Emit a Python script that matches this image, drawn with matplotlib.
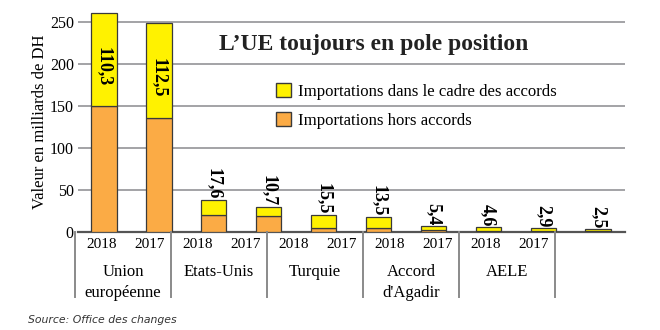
import numpy as np
import matplotlib
matplotlib.use('Agg')
import matplotlib.pyplot as plt
from matplotlib.patches import Patch

# data (milliards de DH)
groups = ['Union\neuropéenne', 'Etats-Unis', 'Turquie', 'Accord\nd\'Agadir', 'AELE']
years = ['2018', '2017']
accords = [110.3, 112.5, 17.6, 10.7, 15.5, 13.5, 5.4, 4.6, 2.9, 2.5]
hors = [150.0, 136.0, 19.8, 18.5, 4.7, 4.4, 1.7, 1.3, 1.0, 0.3]
labels = ['110,3', '112,5', '17,6', '10,7', '15,5', '13,5', '5,4', '4,6', '2,9', '2,5']

yellow = '#FFF200'
orange = '#FBAB45'
edge = '#3a3a3a'
grid_c = '#a3a3a6'
serif = 'Liberation Serif'

W, H = 660, 330
fig = plt.figure(figsize=(6.6, 3.3), dpi=100)
ax = fig.add_axes([78/W, 1-231.7/H, (625-78)/W, 220/H])

x = np.arange(len(accords))
hors = np.array(hors)
accords = np.array(accords)
ax.bar(x, hors, width=0.46, color=orange, edgecolor=edge, linewidth=0.9, zorder=3)
ax.bar(x, accords, width=0.46, bottom=hors, color=yellow, edgecolor=edge, linewidth=0.9, zorder=3)

total = hors + accords
for i, lab in enumerate(labels):
    if accords[i] > 50:
        ax.text(x[i], hors[i] + accords[i]*0.42, lab, rotation=270, ha='center', va='center',
                fontsize=13, fontweight='bold', family=serif, zorder=4)
    else:
        ax.annotate(lab, (x[i], total[i]), xytext=(0, 0.5), textcoords='offset points',
                    rotation=270, ha='center', va='bottom', fontsize=13,
                    fontweight='bold', family=serif, zorder=4)

ax.set_xlim(-0.474, 9.49)
ax.set_ylim(0, 262)
ax.set_yticks([0, 50, 100, 150, 200, 250])
ax.set_yticklabels(['0', '50', '100', '150', '200', '250'], family=serif, fontsize=11.5)
ax.tick_params(axis='y', length=0, pad=3)
ax.set_xticks([])
ax.yaxis.grid(True, color=grid_c, linewidth=1.4, zorder=0)
for s in ['left', 'right', 'top']:
    ax.spines[s].set_visible(False)
ax.spines['bottom'].set_color('#555555')
ax.spines['bottom'].set_linewidth(1.6)
ax.set_ylabel('Valeur en milliards de DH', family=serif, fontsize=12, labelpad=1)

ax.text(0.258, 0.85, 'L\u2019UE toujours en pole position', transform=ax.transAxes,
        ha='left', va='center', fontsize=17, fontweight='bold', family=serif, color='#222222')

handles = [Patch(facecolor=yellow, edgecolor=edge, label='Importations dans le cadre des accords'),
           Patch(facecolor=orange, edgecolor=edge, label='Importations hors accords')]
leg = ax.legend(handles=handles, loc='upper left', bbox_to_anchor=(0.35, 0.705), frameon=False,
                prop={'family': serif, 'size': 12.1}, handlelength=0.9, handleheight=0.9,
                handletextpad=0.4, labelspacing=0.7, borderaxespad=0)

# category table below the axis
left0, step = 75, 96
for g in range(len(groups) + 1):
    xp = (left0 + step*g)/W
    fig.add_artist(plt.Line2D([xp, xp], [1-231.7/H, 1-297/H], transform=fig.transFigure,
                              color='#8a8a8a', linewidth=1.4))
for g, name in enumerate(groups):
    L = left0 + step*g
    for k, yr in enumerate(years):
        fig.text((L + 27 + 48*k)/W, 1-245/H, yr, ha='center', va='center',
                 family=serif, fontsize=11)
    fig.text((L + 48)/W, 1-264/H, name, ha='center', va='top',
             family=serif, fontsize=12, linespacing=1.45)

fig.text(28/W, 1-320/H, 'Source: Office des changes', ha='left', va='center',
         fontsize=7.8, style='italic', family='DejaVu Sans', color='#333333')

fig.savefig('out.png', dpi=100)
